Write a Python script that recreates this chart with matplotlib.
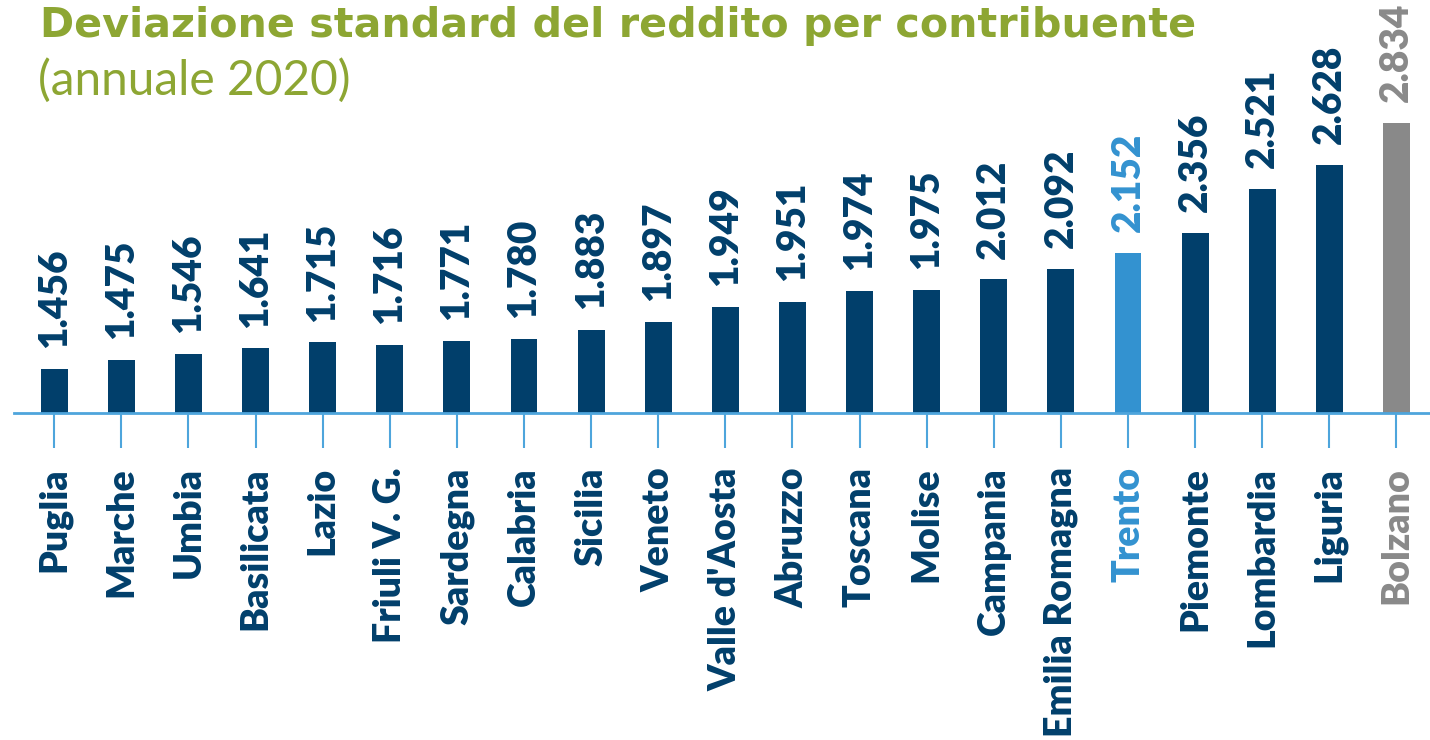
import numpy as np
import matplotlib as mpl

mpl.use("Agg")
import matplotlib.pyplot as plt  # noqa

regioni = ['Puglia', 'Marche', 'Umbia', 'Basilicata', 'Lazio', 'Friuli V. G.',
           'Sardegna', 'Calabria', 'Sicilia', 'Veneto', "Valle d'Aosta",
           'Abruzzo', 'Toscana', 'Molise', 'Campania', 'Emilia Romagna',
           'Trento', 'Piemonte', 'Lombardia', 'Liguria', 'Bolzano']
# valori scritti sopra le barre
valori = [1.456, 1.475, 1.546, 1.641, 1.715, 1.716, 1.771, 1.780, 1.883,
          1.897, 1.949, 1.951, 1.974, 1.975, 2.012, 2.092, 2.152, 2.356,
          2.521, 2.628, 2.834]
# altezze delle barre come disegnate nel grafico (scala grafica, non i valori)
altezze = [0.44, 0.533, 0.59, 0.646, 0.706, 0.68, 0.72, 0.743, 0.833, 0.91,
           1.06, 1.11, 1.223, 1.233, 1.336, 1.44, 1.603, 1.80, 2.243, 2.483,
           2.90]

NAVY = '#013f6b'
TRENTO = '#3392d0'
GRIGIO = '#898989'
LINEA = '#4ea5dc'
VERDE = '#8da633'

colori = [TRENTO if r == 'Trento' else GRIGIO if r == 'Bolzano' else NAVY
          for r in regioni]

fig = plt.figure(figsize=(14.3, 7.4), dpi=100)
ax = fig.add_axes([14 / 1430, 327 / 740, 1 - 14 / 1430, 413 / 740])

x = np.arange(len(regioni))
ax.bar(x, altezze, width=0.4, color=colori, zorder=2)
ax.set_xlim(-0.6, 20.5)
ax.set_ylim(0, 4.13)

for s in ('top', 'right', 'left'):
    ax.spines[s].set_visible(False)
ax.spines['bottom'].set_color(LINEA)
ax.spines['bottom'].set_linewidth(2)
ax.set_yticks([])

ax.set_xticks(x)
ax.set_xticklabels(regioni, rotation=90, va='top', ha='center',
                   fontfamily='Lato', fontweight='heavy', fontsize=27)
ax.tick_params(axis='x', length=25, width=1.5, color=LINEA, pad=14)
for lab, c in zip(ax.get_xticklabels(), colori):
    lab.set_color(c)

for xi, h, v, c in zip(x, altezze, valori, colori):
    ax.annotate(f'{v:.3f}', (xi, h), xytext=(0, 15), textcoords='offset points',
                rotation=90, ha='center', va='bottom', color=c,
                fontfamily='Lato', fontweight='heavy', fontsize=28,
                annotation_clip=False)

fig.text(40 / 1430, 1 - 37 / 740, 'Deviazione standard del reddito per contribuente',
         ha='left', va='baseline', color=VERDE, fontweight='bold', fontsize=29.7,
         fontfamily='DejaVu Sans')
fig.text(38 / 1430, 1 - 95 / 740, '(annuale 2020)', ha='left', va='baseline',
         color=VERDE, fontsize=34.5, fontfamily='Lato', fontweight='normal')

fig.savefig('out.png', dpi=100)
